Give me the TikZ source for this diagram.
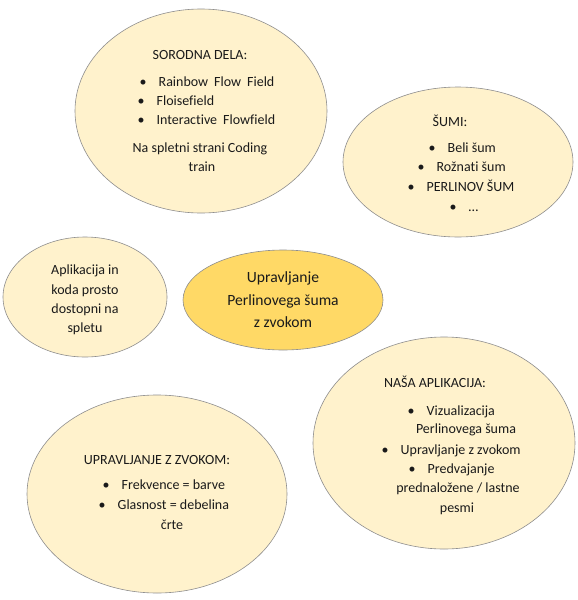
\documentclass[tikz,border=0pt]{standalone}
\usepackage{fontspec}
\setmainfont{Carlito}[Ligatures=CommonOff]
\usetikzlibrary{shapes.geometric}
\definecolor{lightgold}{HTML}{FFF2CC}
\definecolor{gold}{HTML}{FFD966}
\definecolor{bordergray}{HTML}{8E8E8E}
\definecolor{textcol}{HTML}{1A1A1A}
\newcommand{\bl}{\textbullet\hspace{12pt}}
\begin{document}
\begin{tikzpicture}[x=1pt,y=-1pt,
  bubble/.style={ellipse, draw=bordergray, line width=0.6pt, fill=lightgold, inner sep=0pt},
  centrebubble/.style={ellipse, draw=bordergray, line width=0.6pt, fill=gold, inner sep=0pt},
  txt/.style={anchor=base, inner sep=0pt, font=\fontsize{14}{16}\selectfont, text=textcol},
  btxt/.style={anchor=base west, inner sep=0pt, font=\fontsize{14}{16}\selectfont, text=textcol},
  bigtxt/.style={anchor=base, inner sep=0pt, font=\fontsize{15.6}{18}\selectfont, text=textcol}]
\useasboundingbox (0,0) rectangle (578,600);
\fill[white] (0,0) rectangle (578,600);

% ellipses
\node[bubble, minimum width=252pt, minimum height=204pt] (sorodna) at (201,111) {};
\node[bubble, minimum width=230pt, minimum height=150pt] (sumi) at (458,162) {};
\node[bubble, minimum width=164pt, minimum height=120pt] (aplik) at (85,297) {};
\node[centrebubble, minimum width=200pt, minimum height=100pt] (centre) at (283,300) {};
\node[bubble, minimum width=262pt, minimum height=212pt] (nasa) at (444,443) {};
\node[bubble, minimum width=260pt, minimum height=198pt] (zvok) at (157,494) {};

% SORODNA DELA
\node[txt] (s0) at (200,59.5) {SORODNA DELA:};
\node[btxt] (s1) at (139.5,86.5) {\bl Rainbow\hspace{6pt}Flow\hspace{6pt}Field};
\node[btxt] (s2) at (137.5,105.5) {\bl Floisefield};
\node[btxt] (s3) at (137.5,124.5) {\bl Interactive\hspace{6pt}Flowfield};
\node[txt] (s4) at (200,152.5) {Na spletni strani Coding};
\node[txt] (s5) at (202,171.5) {train};

% SUMI
\node[txt] (u0) at (450,126.5) {ŠUMI:};
\node[btxt] (u1) at (428.5,152.5) {\bl Beli šum};
\node[btxt] (u2) at (417.5,171.5) {\bl Rožnati šum};
\node[btxt] (u3) at (407.5,191.5) {\bl PERLINOV ŠUM};
\node[btxt] (u4) at (449.5,211.5) {\bl …};

% Aplikacija
\node[txt] (a1) at (85,274.5) {Aplikacija in};
\node[txt] (a2) at (85,294.5) {koda prosto};
\node[txt] (a3) at (85,313.5) {dostopni na};
\node[txt] (a4) at (85,332.5) {spletu};

% centre
\node[bigtxt] (c1) at (283,282.5) {Upravljanje};
\node[bigtxt] (c2) at (283,305.5) {Perlinovega šuma};
\node[bigtxt] (c3) at (283,327.5) {z zvokom};

% NASA APLIKACIJA
\node[txt] (n0) at (435,387.5) {NAŠA APLIKACIJA:};
\node[btxt] (n1) at (407.5,415.5) {\bl Vizualizacija};
\node[txt] (n2) at (466,433.5) {Perlinovega šuma};
\node[btxt] (n3) at (381.5,454.5) {\bl Upravljanje z zvokom};
\node[btxt] (n4) at (408.5,473.5) {\bl Predvajanje};
\node[txt] (n5) at (458,492.5) {prednaložene / lastne};
\node[txt] (n6) at (457,512.5) {pesmi};

% UPRAVLJANJE Z ZVOKOM
\node[txt] (z0) at (157,464.5) {UPRAVLJANJE Z ZVOKOM:};
\node[btxt] (z1) at (102.5,489.5) {\bl Frekvence = barve};
\node[btxt] (z2) at (98.5,509.5) {\bl Glasnost = debelina};
\node[txt] (z3) at (172,529.5) {črte};
\end{tikzpicture}
\end{document}
